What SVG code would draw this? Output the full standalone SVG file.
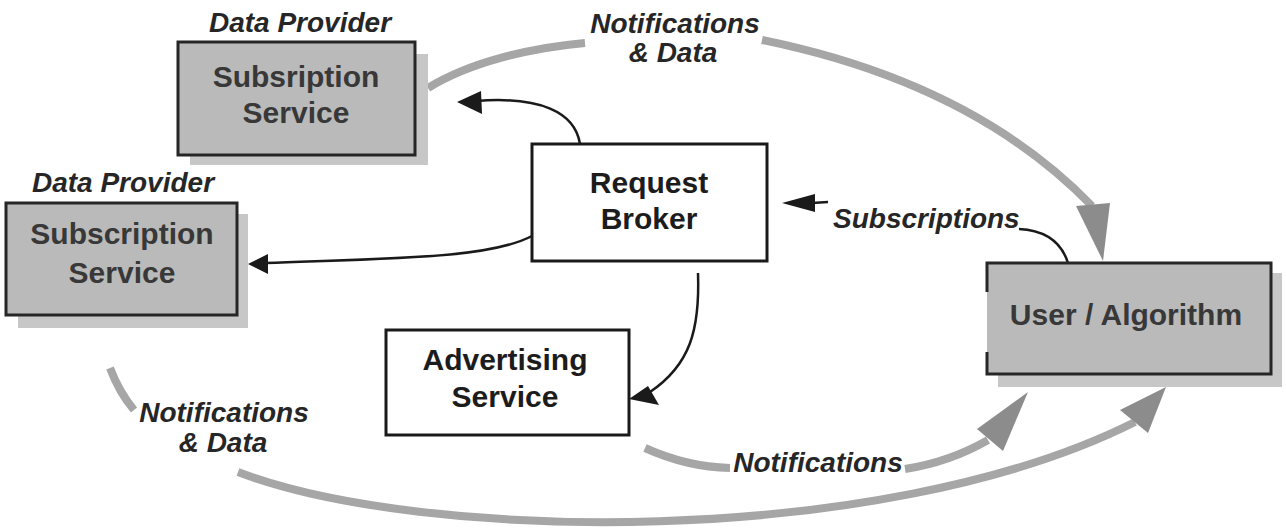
<svg xmlns="http://www.w3.org/2000/svg" width="1286" height="528" viewBox="0 0 1286 528">
<style>
.bg{fill:#ffffff}
.shadow{fill:#c7c7c7}
.gbox{fill:#bababa;stroke:#262626;stroke-width:3}
.wbox{fill:#ffffff;stroke:#1a1a1a;stroke-width:3}
.btxt{font-family:"Liberation Sans",Arial,sans-serif;font-weight:bold;font-size:30px;text-anchor:middle}
.gtxt{fill:#383838}
.ktxt{fill:#1c1c1c}
.lbl{font-family:"Liberation Sans",Arial,sans-serif;font-weight:bold;font-style:italic;font-size:28px;fill:#262626}
.mid{text-anchor:middle}
.gline{fill:none;stroke:#a6a6a6;stroke-width:8;stroke-linecap:butt}
.ghead{fill:#8c8c8c}
.kline{fill:none;stroke:#1a1a1a;stroke-width:2.5}
.khead{fill:#1a1a1a}
</style>
<rect class="bg" x="0" y="0" width="1286" height="528"/>

<g id="connectors">
  <!-- top gray arc: Notifications & Data to User/Algorithm -->
  <path class="gline" d="M428,88 C470,62 530,48 585,43"/>
  <path class="gline" d="M762,40 Q973,83 1092,206"/>
  <polygon class="ghead" points="1076,206 1110,203 1103,261"/>
  <!-- bottom gray arc: Notifications & Data -->
  <path class="gline" d="M110,368 Q119,392 134,410"/>
  <path class="gline" d="M238,472 C420,542 880,550 1135,422"/>
  <polygon class="ghead" points="1120,410 1148,433 1166,387"/>
  <!-- middle gray arc: Notifications -->
  <path class="gline" d="M645,448 Q687,467 730,468"/>
  <path class="gline" d="M905,469 Q950,462 988,440"/>
  <polygon class="ghead" points="977,429 1003,451 1028,392"/>
  <!-- black arrows -->
  <path class="kline" d="M580,144 C575,112 540,96 476,101"/>
  <polygon class="khead" points="457,102 481,91 482,114"/>
  <path class="kline" d="M532,236 C490,258 400,258 266,263"/>
  <polygon class="khead" points="248,264 268,254 268,274"/>
  <path class="kline" d="M698,273 C700,330 690,365 650,392"/>
  <polygon class="khead" points="629,399 648,386 659,405"/>
  <path class="kline" d="M1019,229 Q1058,231 1068,263"/>
  <path class="kline" d="M812,203 L828,202"/>
  <polygon class="khead" points="782,203 815,194 815,212"/>
</g>

<g id="labels">
  <text class="lbl mid" x="675" y="33">Notifications</text>
  <text class="lbl mid" x="673" y="62">&amp; Data</text>
  <text class="lbl mid" x="224" y="422">Notifications</text>
  <text class="lbl mid" x="223" y="452">&amp; Data</text>
  <text class="lbl mid" x="818" y="472">Notifications</text>
  <text class="lbl" x="833" y="228">Subscriptions</text>
</g>

<g id="subscription-service-1">
  <text class="lbl mid" x="300" y="32">Data Provider</text>
  <rect class="shadow" x="190" y="54" width="238" height="111"/>
  <rect class="gbox" x="178" y="42" width="237" height="113"/>
  <text class="btxt gtxt" x="296" y="87">Subsription</text>
  <text class="btxt gtxt" x="296" y="123">Service</text>
</g>

<g id="subscription-service-2">
  <text class="lbl mid" x="123" y="192">Data Provider</text>
  <rect class="shadow" x="18" y="214" width="230" height="114"/>
  <rect class="gbox" x="6" y="203" width="231" height="112"/>
  <text class="btxt gtxt" x="122" y="244">Subscription</text>
  <text class="btxt gtxt" x="122" y="283">Service</text>
</g>

<g id="request-broker">
  <rect class="wbox" x="532" y="144" width="235" height="117"/>
  <text class="btxt ktxt" x="649" y="193">Request</text>
  <text class="btxt ktxt" x="649" y="229">Broker</text>
</g>

<g id="advertising-service">
  <rect class="wbox" x="386" y="330" width="243" height="105"/>
  <text class="btxt ktxt" x="505" y="370">Advertising</text>
  <text class="btxt ktxt" x="505" y="407">Service</text>
</g>

<g id="user-algorithm">
  <rect class="shadow" x="998" y="273" width="284" height="114"/>
  <rect x="987" y="263" width="284" height="111" fill="#bababa"/>
  <path d="M987,292 V263 H1271 V374 H987 V352" fill="none" stroke="#262626" stroke-width="3"/>
  <text class="btxt gtxt" x="1126" y="325">User / Algorithm</text>
</g>
</svg>
